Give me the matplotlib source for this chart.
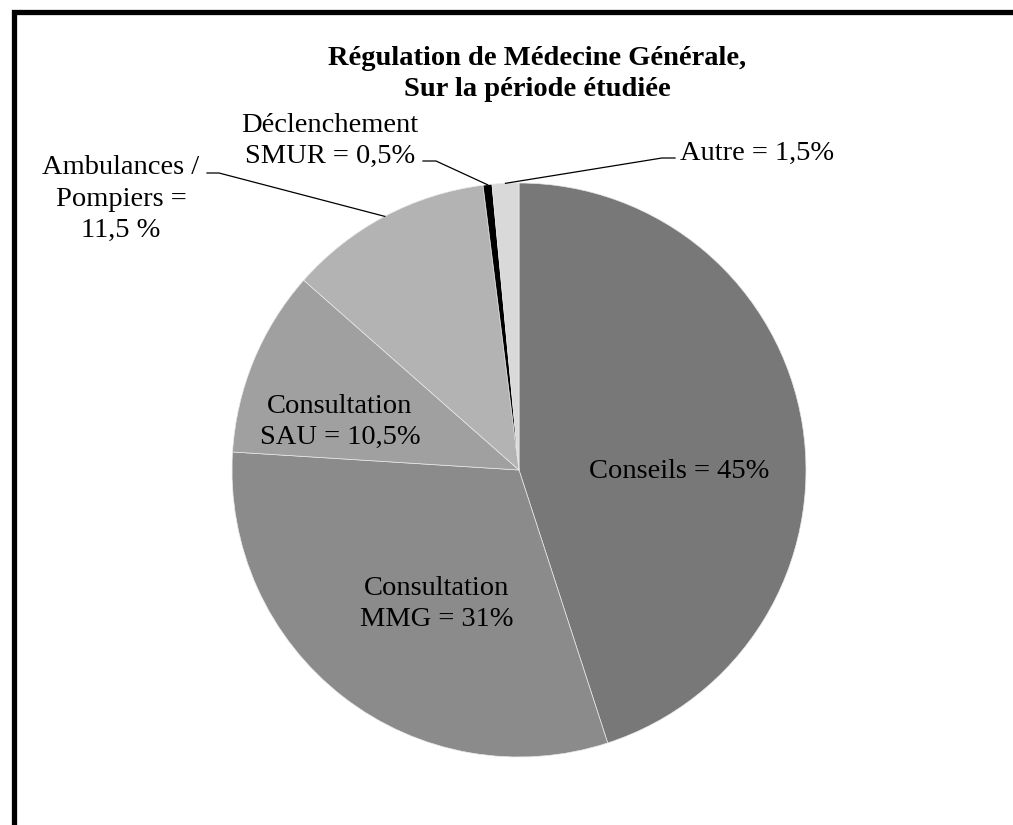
import numpy as np
import matplotlib
matplotlib.use('Agg')
import matplotlib.pyplot as plt
from matplotlib.lines import Line2D

plt.rcParams['font.family'] = ['Liberation Serif', 'DejaVu Serif']

categories = ['Conseils', 'Consultation MMG', 'Consultation SAU',
              'Ambulances / Pompiers', 'Déclenchement SMUR', 'Autre']
values = [45, 31, 10.5, 11.5, 0.5, 1.5]
labels = ['Conseils = 45%', 'Consultation\nMMG = 31%', 'Consultation\nSAU = 10,5%',
          'Ambulances /\nPompiers =\n11,5 %', 'Déclenchement\nSMUR = 0,5%', 'Autre = 1,5%']
colors = ['#787878', '#8b8b8b', '#a0a0a0', '#b3b3b3', '#000000', '#d9d9d9']
title = 'Régulation de Médecine Générale,\nSur la période étudiée'

W, H = 1013, 825
fig = plt.figure(figsize=(W / 100, H / 100), dpi=100)

def fx(px):
    return px / W

def fy(py):
    return 1 - py / H

# pie placement (pixels, from top-left)
cx, cy, R = 519, 470, 287
ax = fig.add_axes([fx(cx - R), fy(cy + R), 2 * R / W, 2 * R / H])
wedges, _ = ax.pie(values, colors=colors, startangle=90, counterclock=False,
                   radius=1, wedgeprops=dict(edgecolor='#e8e8e8', linewidth=0.5))
ax.set_xlim(-1, 1)
ax.set_ylim(-1, 1)
ax.set_aspect('auto')
ax.axis('off')

fs = 20.5
ls = 1.32
# inside labels
inside = {0: (679, 471), 1: (437, 604), 2: (340, 422)}
for i, (px, py) in inside.items():
    fig.text(fx(px), fy(py), labels[i], ha='center', va='center', fontsize=fs,
             linespacing=ls, color='black')

# outside labels with leader lines: text pos, leader start, leader knee
outside = {
    3: ((121, 199), 'center', (207, 173), (219, 173)),
    4: ((330, 141), 'center', (423, 161), (436, 161)),
    5: ((680, 153), 'left', (675, 158), (662, 158)),
}
for i, ((px, py), ha, p0, p1) in outside.items():
    fig.text(fx(px), fy(py), labels[i], ha=ha, va='center', fontsize=fs,
             linespacing=ls, color='black', multialignment='center')
    w = wedges[i]
    mid = np.deg2rad((w.theta1 + w.theta2) / 2)
    ex, ey = ax.transData.transform((np.cos(mid), np.sin(mid)))
    xs = [fx(p0[0]), fx(p1[0]), ex / W]
    ys = [fy(p0[1]), fy(p1[1]), ey / H]
    fig.add_artist(Line2D(xs, ys, color='black', linewidth=0.9))

fig.text(fx(537), fy(74), title, ha='center', va='center', fontsize=fs,
         fontweight='bold', linespacing=ls)

# frame (cut at right and bottom)
fig.add_artist(Line2D([fx(13.5), fx(13.5), fx(W + 10)], [fy(H + 10), fy(11.5), fy(11.5)],
                      color='black', linewidth=3.8, solid_joinstyle='miter'))

fig.savefig('out.png', dpi=100, facecolor='white')
